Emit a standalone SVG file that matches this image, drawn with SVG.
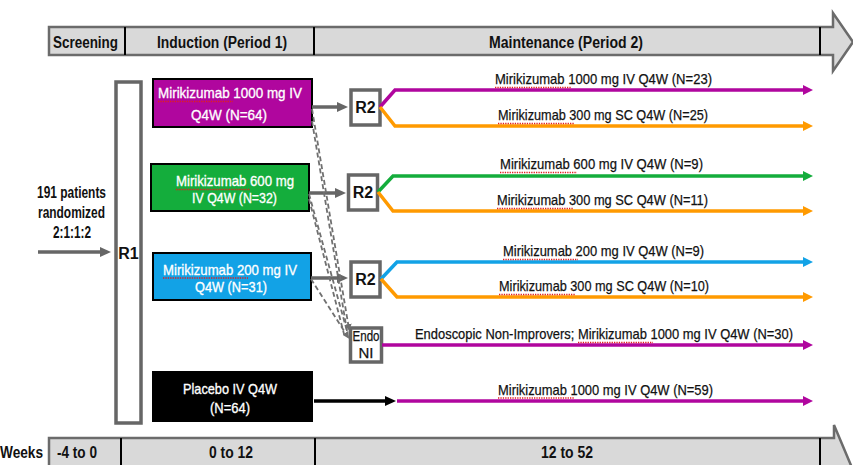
<svg xmlns="http://www.w3.org/2000/svg" width="853" height="465" viewBox="0 0 853 465">
<style>
.bar{fill:#d9d9d9;stroke:#6b6b6b;stroke-width:2.5}
.div{stroke:#000;stroke-width:2}
.hdr{font-family:"Liberation Sans Narrow","Liberation Sans",Arial,sans-serif;font-weight:bold;font-size:16px;fill:#111}
.cal{font-family:"Liberation Sans",Arial,sans-serif;font-size:15px}
.wt{fill:#fff;stroke:#fff;stroke-width:0.35}
.bk{fill:#111;stroke:#111;stroke-width:0.25}
.box{stroke:#000;stroke-width:2}
.gbox{fill:#fff;stroke:#666;stroke-width:3.5}
.gl{stroke:#666;stroke-width:3.5;fill:none}
.dash{stroke:#707070;stroke-width:1.8;fill:none;stroke-dasharray:5 3}
.ln{stroke-width:3.5;fill:none}
.sq{stroke:#e02020;stroke-width:1.3;stroke-dasharray:1.3 1.1;fill:none}
</style>
<defs>
<marker id="aG" markerUnits="userSpaceOnUse" markerWidth="12" markerHeight="12" refX="3" refY="6" orient="auto"><path d="M0,1 L11,6 L0,11 z" fill="#666"/></marker>
<marker id="aK" markerUnits="userSpaceOnUse" markerWidth="12" markerHeight="12" refX="3" refY="6" orient="auto"><path d="M0,1 L11,6 L0,11 z" fill="#000"/></marker>
<marker id="aM" markerUnits="userSpaceOnUse" markerWidth="12" markerHeight="12" refX="3" refY="6" orient="auto"><path d="M0,1 L10,6 L0,11 z" fill="#b0069e"/></marker>
<marker id="aO" markerUnits="userSpaceOnUse" markerWidth="12" markerHeight="12" refX="3" refY="6" orient="auto"><path d="M0,1 L10,6 L0,11 z" fill="#ff9a00"/></marker>
<marker id="aGr" markerUnits="userSpaceOnUse" markerWidth="12" markerHeight="12" refX="3" refY="6" orient="auto"><path d="M0,1 L10,6 L0,11 z" fill="#14ad3c"/></marker>
<marker id="aB" markerUnits="userSpaceOnUse" markerWidth="12" markerHeight="12" refX="3" refY="6" orient="auto"><path d="M0,1 L10,6 L0,11 z" fill="#12a2e6"/></marker>
<marker id="aD" markerUnits="userSpaceOnUse" markerWidth="8" markerHeight="8" refX="5" refY="4" orient="auto"><path d="M0,0.5 L7,4 L0,7.5 z" fill="#707070"/></marker>
</defs>

<g id="timeline-top">
<path class="bar" d="M49,27 H833 V13 L853,42 L833,71 V55 H49 Z"/>
<line class="div" x1="125" y1="27" x2="125" y2="55"/>
<line class="div" x1="314" y1="27" x2="314" y2="55"/>
<line class="div" x1="820" y1="27" x2="820" y2="55"/>
<text class="hdr" x="53" y="48" textLength="65" lengthAdjust="spacingAndGlyphs">Screening</text>
<text class="hdr" x="157" y="48" textLength="130" lengthAdjust="spacingAndGlyphs">Induction (Period 1)</text>
<text class="hdr" x="489" y="48" textLength="154" lengthAdjust="spacingAndGlyphs">Maintenance (Period 2)</text>
</g>

<g id="timeline-bottom">
<path class="bar" d="M49,438 H834 V425 L858,482 L49,482 Z"/>
<line class="div" x1="121" y1="438" x2="121" y2="466"/>
<line class="div" x1="315" y1="438" x2="315" y2="466"/>
<line class="div" x1="820" y1="438" x2="820" y2="466"/>
<text class="hdr" x="0" y="458" textLength="43" lengthAdjust="spacingAndGlyphs">Weeks</text>
<text class="hdr" x="57" y="458" textLength="40" lengthAdjust="spacingAndGlyphs">-4 to 0</text>
<text class="hdr" x="209" y="458" textLength="44" lengthAdjust="spacingAndGlyphs">0 to 12</text>
<text class="hdr" x="541" y="458" textLength="52" lengthAdjust="spacingAndGlyphs">12 to 52</text>
</g>

<g id="start">
<text class="hdr" x="37" y="198" textLength="69" lengthAdjust="spacingAndGlyphs">191 patients</text>
<text class="hdr" x="38" y="218" textLength="67" lengthAdjust="spacingAndGlyphs">randomized</text>
<text class="hdr" x="53" y="238" textLength="38" lengthAdjust="spacingAndGlyphs">2:1:1:2</text>
</g>

<g id="R1">
<rect class="gbox" x="116" y="82" width="25" height="341"/>
<text class="hdr" x="128.5" y="259" text-anchor="middle" font-size="17">R1</text>
</g>

<g id="arm-1000">
<rect class="box" x="153" y="79" width="159" height="48" fill="#b0069e"/>
<text class="cal wt" x="158" y="98" textLength="144" lengthAdjust="spacingAndGlyphs">Mirikizumab 1000 mg IV</text>
<text class="cal wt" x="191" y="120" textLength="76" lengthAdjust="spacingAndGlyphs">Q4W  (N=64)</text>
<path class="sq" d="M158,101.5 H233"/>
</g>
<g id="arm-600">
<rect class="box" x="151" y="164" width="158" height="47" fill="#14ad3c"/>
<text class="cal wt" x="176" y="186" textLength="118" lengthAdjust="spacingAndGlyphs">Mirikizumab 600 mg</text>
<text class="cal wt" x="192" y="203" textLength="85" lengthAdjust="spacingAndGlyphs">IV Q4W (N=32)</text>
<path class="sq" d="M176,189.5 H250"/>
</g>
<g id="arm-200">
<rect class="box" x="153" y="253" width="158" height="47" fill="#12a2e6"/>
<text class="cal wt" x="163" y="275" textLength="134" lengthAdjust="spacingAndGlyphs">Mirikizumab 200 mg IV</text>
<text class="cal wt" x="195" y="292" textLength="72" lengthAdjust="spacingAndGlyphs">Q4W (N=31)</text>
<path class="sq" d="M163,278 H248"/>
</g>
<g id="arm-placebo">
<rect class="box" x="153" y="372" width="159" height="49" fill="#000"/>
<text class="cal wt" x="183" y="394" textLength="94" lengthAdjust="spacingAndGlyphs">Placebo IV Q4W</text>
<text class="cal wt" x="210" y="413" textLength="40" lengthAdjust="spacingAndGlyphs">(N=64)</text>
</g>

<g id="R2-a">
<rect class="gbox" x="351" y="90" width="29" height="35"/>
<text class="hdr" x="365.5" y="113" text-anchor="middle" font-size="17">R2</text>
</g>
<g id="R2-b">
<rect class="gbox" x="348.5" y="175" width="29" height="35"/>
<text class="hdr" x="363" y="198" text-anchor="middle" font-size="17">R2</text>
</g>
<g id="R2-c">
<rect class="gbox" x="351" y="262" width="29" height="35"/>
<text class="hdr" x="365.5" y="285" text-anchor="middle" font-size="17">R2</text>
</g>
<g id="EndoNI">
<rect class="gbox" x="350.5" y="328" width="31" height="34"/>
<text class="cal bk" x="352.5" y="341" font-size="12.5" textLength="27" lengthAdjust="spacingAndGlyphs">Endo</text>
<text class="cal bk" x="366" y="358" text-anchor="middle" font-size="12.5">NI</text>
</g>

<g id="connectors">
<path class="gl" d="M38,252 H103" marker-end="url(#aG)"/>
<path class="gl" d="M312,107 H340" marker-end="url(#aG)"/>
<path class="gl" d="M309,193 H338" marker-end="url(#aG)"/>
<path class="gl" d="M311,278 H340" marker-end="url(#aG)"/>
<path class="dash" d="M312,109 L349,329" marker-end="url(#aD)"/>
<path class="dash" d="M312,121 L347,331"/>
<path class="dash" d="M309,194 L347,331"/>
<path class="dash" d="M309,199 L344,334"/>
<path class="dash" d="M311,279 L348,337" marker-end="url(#aD)"/>

<path class="ln" stroke="#b0069e" d="M380,107 L395,90 H806" marker-end="url(#aM)"/>
<path class="ln" stroke="#ff9a00" d="M380,107 L395,126 H806" marker-end="url(#aO)"/>
<path class="ln" stroke="#14ad3c" d="M378,192 L393,176 H806" marker-end="url(#aGr)"/>
<path class="ln" stroke="#ff9a00" d="M378,192 L393,211 H806" marker-end="url(#aO)"/>
<path class="ln" stroke="#12a2e6" d="M381,279 L397,262 H806" marker-end="url(#aB)"/>
<path class="ln" stroke="#ff9a00" d="M381,279 L397,297 H806" marker-end="url(#aO)"/>
<path class="ln" stroke="#b0069e" d="M382,345 H806" marker-end="url(#aM)"/>
<path class="ln" stroke="#000" stroke-width="3" d="M314,401 H388" marker-end="url(#aK)"/>
<path class="ln" stroke="#b0069e" d="M397,401 H806" marker-end="url(#aM)"/>

<g class="cal bk">
<text x="495" y="84" textLength="217" lengthAdjust="spacingAndGlyphs">Mirikizumab 1000 mg IV Q4W (N=23)</text>
<text x="498" y="120" textLength="210" lengthAdjust="spacingAndGlyphs">Mirikizumab 300 mg SC Q4W (N=25)</text>
<text x="500" y="169" textLength="203" lengthAdjust="spacingAndGlyphs">Mirikizumab 600 mg IV Q4W (N=9)</text>
<text x="497" y="205" textLength="211" lengthAdjust="spacingAndGlyphs">Mirikizumab 300 mg SC Q4W (N=11)</text>
<text x="503" y="256" textLength="201" lengthAdjust="spacingAndGlyphs">Mirikizumab 200 mg IV Q4W (N=9)</text>
<text x="499" y="291" textLength="210" lengthAdjust="spacingAndGlyphs">Mirikizumab 300 mg SC Q4W (N=10)</text>
<text x="415" y="339" textLength="378" lengthAdjust="spacingAndGlyphs">Endoscopic Non-Improvers; Mirikizumab 1000 mg IV Q4W (N=30)</text>
<text x="498" y="395" textLength="215" lengthAdjust="spacingAndGlyphs">Mirikizumab 1000 mg IV Q4W (N=59)</text>
</g>
<path class="sq" d="M495,87.5 H571 M498,123.5 H574 M500,172.5 H577 M497,208.5 H573 M503,259.5 H578 M499,294.5 H575 M578,342.5 H653 M498,398 H574"/>
</g>
</svg>
